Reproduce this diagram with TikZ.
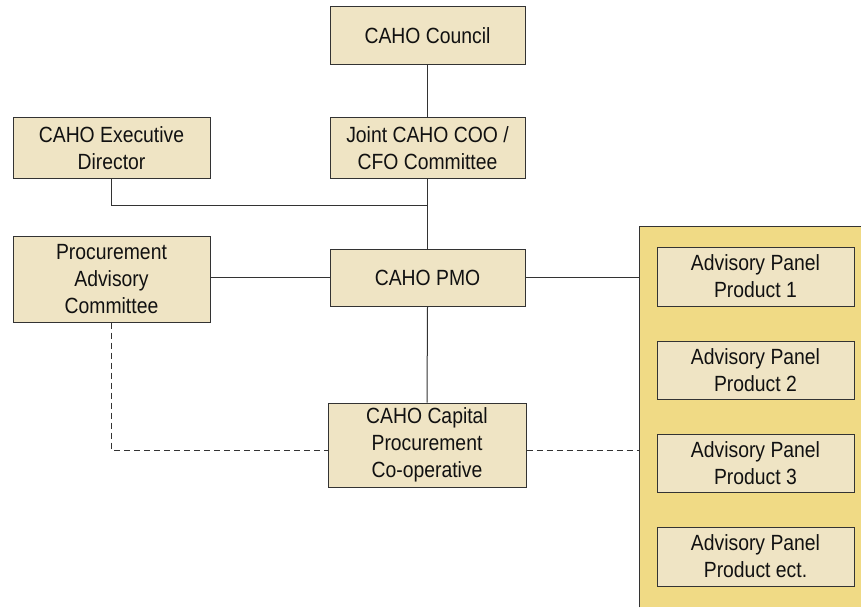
\documentclass[tikz,border=0pt]{standalone}
\usepackage{fontspec}
\setmainfont{Liberation Sans}[FakeStretch=0.88]
\definecolor{boxfill}{HTML}{EFE4C4}
\definecolor{panelfill}{HTML}{F0DA85}
\definecolor{edge}{HTML}{333333}
\definecolor{txt}{HTML}{111111}
\begin{document}
\begin{tikzpicture}[x=1pt,y=-1pt,
  box/.style={draw=edge, line width=1pt, fill=boxfill, inner sep=0pt,
    align=center, text=txt, font=\fontsize{22}{27}\selectfont},
  conn/.style={draw=edge, line width=1pt},
  dconn/.style={draw=edge, line width=1pt, dash pattern=on 6pt off 4pt}]
\useasboundingbox (0,0) rectangle (861,607);
\fill[white] (0,0) rectangle (861,607);
% yellow panel
\node[fill=panelfill, inner sep=0pt, minimum width=222pt, minimum height=381pt, anchor=north west] (panel) at (639,226) {};
\draw[conn] (panel.south west) -- (panel.north west) -- (panel.north east);
% boxes
\node[box, minimum width=195pt, minimum height=58pt] (council) at (427.5,36) {CAHO Council};
\node[box, minimum width=195pt, minimum height=60pt] (joint) at (427.5,148) {Joint CAHO COO /\\CFO Committee};
\node[box, minimum width=197pt, minimum height=60pt] (exec) at (111.5,148) {CAHO Executive\\Director};
\node[box, minimum width=197pt, minimum height=86pt] (pac) at (111.5,279) {Procurement\\Advisory\\Committee};
\node[box, minimum width=195pt, minimum height=57pt] (pmo) at (427.5,277.5) {CAHO PMO};
\node[box, minimum width=198pt, minimum height=84pt] (cpc) at (427,445) {CAHO Capital\\Procurement\\Co-operative};
\node[box, minimum width=197pt, minimum height=59pt] (p1) at (755.5,276.5) {Advisory Panel\\Product 1};
\node[box, minimum width=197pt, minimum height=58pt] (p2) at (755.5,370) {Advisory Panel\\Product 2};
\node[box, minimum width=197pt, minimum height=58pt] (p3) at (755.5,463) {Advisory Panel\\Product 3};
\node[box, minimum width=197pt, minimum height=59pt] (p4) at (755.5,556.5) {Advisory Panel\\Product ect.};
% connectors
\coordinate (jn) at (427.5,205);
\coordinate (dl) at (0,450);
\draw[conn] (council.south) -- (joint.north);
\draw[conn] (joint.south) -- (pmo.north);
\draw[conn] (exec.south) |- (jn);
\draw[conn] (pac.east |- pmo.west) -- (pmo.west);
\draw[conn] (pmo.east) -- (pmo.east -| panel.west);
\draw[conn] (pmo.south) -- (cpc.north);
\draw[dconn] (pac.south) |- (cpc.west |- dl);
\draw[dconn] (cpc.east |- dl) -- (panel.west |- dl);
\end{tikzpicture}
\end{document}
